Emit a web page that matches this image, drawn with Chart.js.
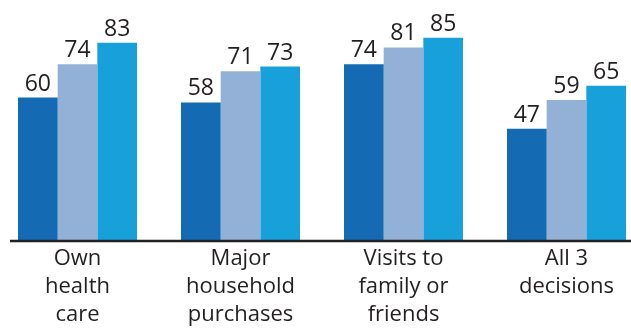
<!DOCTYPE html>
<html>
<head>
<meta charset="utf-8">
<script src="https://cdn.jsdelivr.net/npm/chart.js@4"></script>
<style>
  html, body { margin: 0; padding: 0; background: #fff; }
  #wrap { width: 631px; height: 329px; position: relative; }
</style>
</head>
<body>
<div id="wrap"><canvas id="chart"></canvas></div>
<script>
// datos del gráfico
const categories = [
    ['Own', 'health', 'care'],
    ['Major', 'household', 'purchases'],
    ['Visits to', 'family or', 'friends'],
    ['All 3', 'decisions']
];
const seriesA = [60, 58, 74, 47];
const seriesB = [74, 71, 81, 59];
const seriesC = [83, 73, 85, 65];

const textColor = '#231f20';
const fontFamily = "'Open Sans', sans-serif";

// etiquetas de valor encima de cada barra
const valueLabels = {
    id: 'valueLabels',
    afterDatasetsDraw(chart) {
        const ctx = chart.ctx;
        ctx.save();
        ctx.fillStyle = textColor;
        ctx.font = `23px ${fontFamily}`;
        ctx.textAlign = 'center';
        ctx.textBaseline = 'alphabetic';
        chart.data.datasets.forEach((ds, i) => {
            chart.getDatasetMeta(i).data.forEach((bar, j) => {
                ctx.fillText(ds.data[j], bar.x, bar.y - 7);
            });
        });
        ctx.restore();
    }
};

// línea base a lo ancho del lienzo
const baseLine = {
    id: 'baseLine',
    afterDatasetsDraw(chart) {
        const ctx = chart.ctx;
        const y = chart.scales.y.getPixelForValue(0);
        ctx.save();
        ctx.strokeStyle = textColor;
        ctx.lineWidth = 2.5;
        ctx.beginPath();
        ctx.moveTo(10, y);
        ctx.lineTo(chart.width, y);
        ctx.stroke();
        ctx.restore();
    }
};

new Chart(document.getElementById('chart'), {
    type: 'bar',
    data: {
        labels: categories,
        datasets: [
            { data: seriesA, backgroundColor: '#146bb4', clip: false },
            { data: seriesB, backgroundColor: '#93b1d6', clip: false },
            { data: seriesC, backgroundColor: '#18a0db', clip: false }
        ]
    },
    options: {
        responsive: true,
        maintainAspectRatio: false,
        animation: false,
        layout: { padding: { left: 77.5, right: 64.5, top: 2, bottom: 0 } },
        datasets: { bar: { categoryPercentage: 0.73, barPercentage: 1 } },
        plugins: { legend: { display: false }, tooltip: { enabled: false } },
        scales: {
            x: {
                offset: false,
                grid: { display: false, drawTicks: false },
                border: { display: false },
                ticks: {
                    color: textColor,
                    padding: 4,
                    maxRotation: 0,
                    autoSkip: false,
                    font: { family: fontFamily, size: 22, lineHeight: 1.27 }
                },
                afterFit: s => { s.height = 88; }
            },
            y: {
                display: false,
                min: 0,
                max: 100
            }
        }
    },
    plugins: [valueLabels, baseLine]
});
</script>
</body>
</html>
